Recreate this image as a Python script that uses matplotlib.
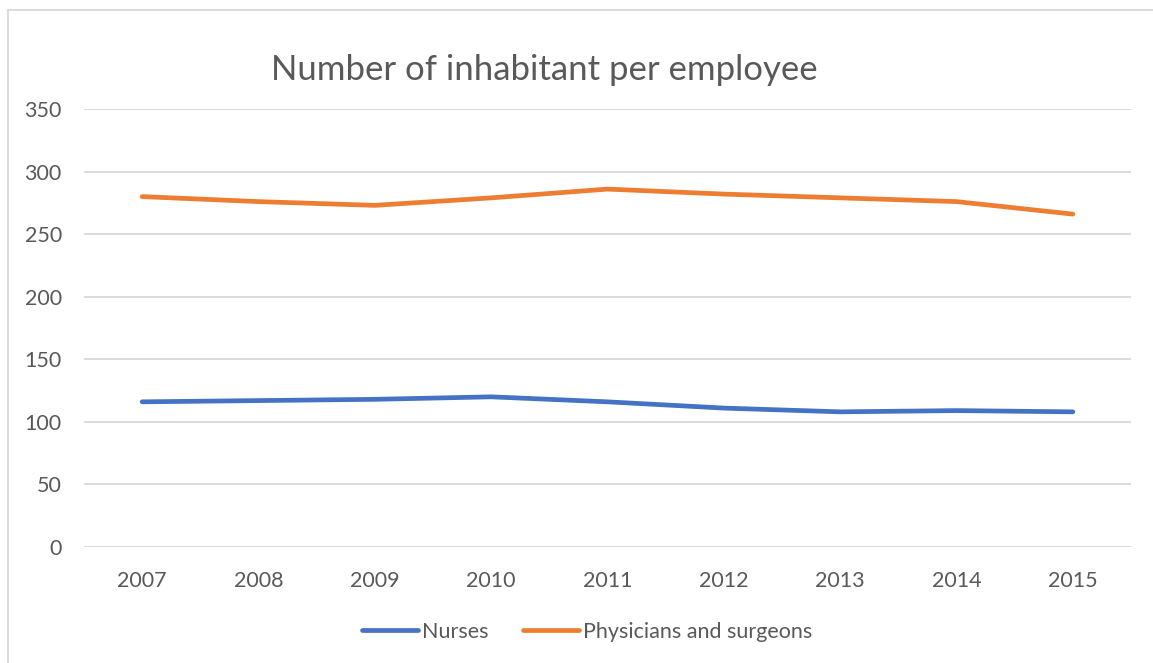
import matplotlib.pyplot as plt
from matplotlib.lines import Line2D

years = ["2007", "2008", "2009", "2010", "2011", "2012", "2013", "2014", "2015"]
nurses = [116, 117, 118, 120, 116, 111, 108, 109, 108]
physicians = [280, 276, 273, 279, 286, 282, 279, 276, 266]
y_ticks = [0, 50, 100, 150, 200, 250, 300, 350]

TEXT = "#595959"
GRID = "#D9D9D9"
BLUE = "#4472C4"
ORANGE = "#ED7D31"

plt.rcParams["font.family"] = ["Lato", "DejaVu Sans"]

fig = plt.figure(figsize=(11.53, 6.63), dpi=100)
ax = fig.add_axes([84 / 1153, 1 - 547 / 663, (1131 - 84) / 1153, (547 - 109) / 663])

x = list(range(len(years)))
ax.plot(x, nurses, color=BLUE, lw=3.4, solid_capstyle="round", solid_joinstyle="round",
        label="Nurses", zorder=3)
ax.plot(x, physicians, color=ORANGE, lw=3.4, solid_capstyle="round", solid_joinstyle="round",
        label="Physicians and surgeons", zorder=3)

ax.set_xlim(-0.5, len(years) - 0.5)
ax.set_ylim(0, 350)
ax.set_yticks(y_ticks)
ax.set_xticks(x)
ax.set_xticklabels(years)
ax.tick_params(length=0, labelsize=15.5, colors=TEXT)
ax.tick_params(axis="y", pad=16)
ax.tick_params(axis="x", pad=17)
ax.yaxis.grid(True, color=GRID, lw=1.3)
ax.set_axisbelow(True)
for s in ax.spines.values():
    s.set_visible(False)

fig.text(544 / 1153, 1 - 70 / 663, "Number of inhabitant per employee",
         ha="center", va="center", fontsize=25, color=TEXT)

# chart frame (top and left edges)
fig.add_artist(Line2D([8 / 1153, 1], [1 - 10 / 663] * 2, color=GRID, lw=1.3))
fig.add_artist(Line2D([8 / 1153] * 2, [0, 1 - 10 / 663], color=GRID, lw=1.3))

fig.legend(loc="center", bbox_to_anchor=(587 / 1153, 1 - 632 / 663), ncol=2,
           frameon=False, fontsize=15.5, labelcolor=TEXT, handlelength=2.6,
           handletextpad=0.2, columnspacing=1.6)

fig.savefig("out.png", dpi=100)
